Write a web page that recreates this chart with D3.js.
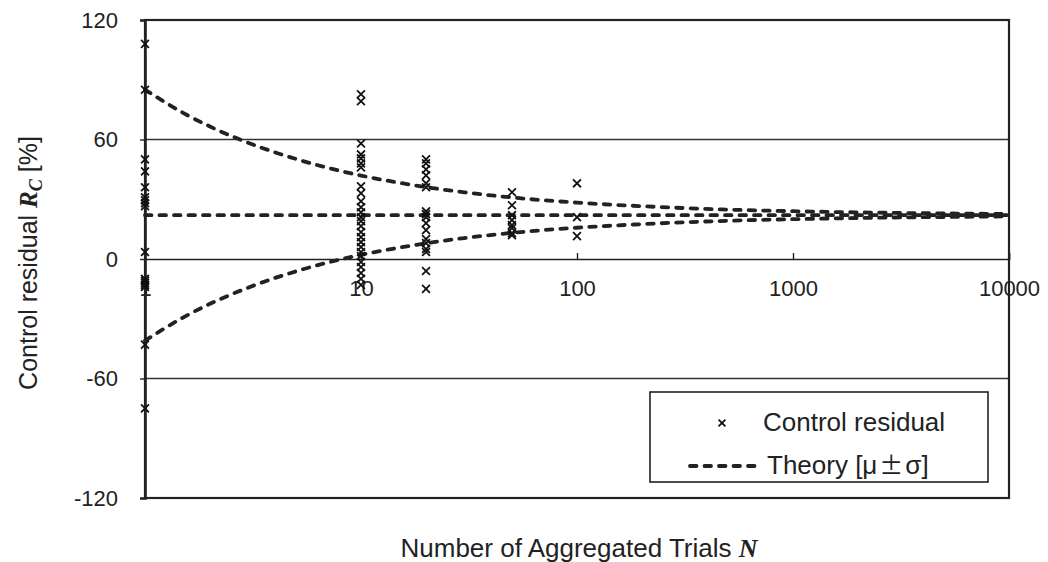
<!DOCTYPE html>
<html><head><meta charset="utf-8">
<script src="https://cdn.jsdelivr.net/npm/d3@7"></script>
<style>
body{margin:0;background:#fff;}
svg{display:block;font-family:"Liberation Sans",Arial,sans-serif;}
</style></head>
<body>
<svg id="chart" width="1048" height="562"></svg>
<script>
// ---- data ----
const trialCounts = [1, 10, 20, 50, 100];
const residualsN1 = [108, 85, 50, 44, 36, 31, 29.5, 28, 26.5, 3.5, -10, -11, -12, -13, -14, -43, -75];
const residualsN10 = [82.7, 79.2, 58, 52.5, 50.5, 48, 46, 36.5, 33, 29, 26, 23.5, 21, 19, 16.5, 13.5, 11, 8.5, 6, 3.5, 1.5, -1.5, -4, -7, -10, -13];
const residualsN20 = [50, 48, 45, 42, 38, 36, 24, 22.5, 21, 18, 14.5, 10, 8, 5, 3.5, -6, -15];
const residualsN50 = [33.5, 27, 22, 19.5, 17, 15.5, 13, 12];
const residualsN100 = [38, 21, 11.5];
const theoryN =     [1, 1.5, 2, 3, 5, 7, 10, 15, 20, 30, 50, 70, 100, 200, 500, 1000, 2000, 5000, 10000];
const theoryMu =    [22, 22, 22, 22, 22, 22, 22, 22, 22, 22, 22, 22, 22, 22, 22, 22, 22, 22, 22];
const theoryUpper = [85, 73.4, 66.5, 58.4, 50.2, 45.8, 41.9, 38.3, 36.1, 33.5, 30.9, 29.5, 28.3, 26.5, 24.8, 24.0, 23.4, 22.9, 22.6];
const theoryLower = [-41, -29.4, -22.5, -14.4, -6.2, -1.8, 2.1, 5.7, 7.9, 10.5, 13.1, 14.5, 15.7, 17.5, 19.2, 20.0, 20.6, 21.1, 21.4];
const xTicks = [1, 10, 100, 1000, 10000];
const yTicks = [-120, -60, 0, 60, 120];
const legendLabels = ["Control residual", "Theory [μ", "±", "σ]"];

// ---- chart ----
const svg = d3.select("#chart");
const x = d3.scaleLog().domain([1, 10000]).range([145, 1009]);
const y = d3.scaleLinear().domain([-120, 120]).range([498, 20]);
const fmt = d => String(d);

// gridlines
svg.append("g").selectAll("line").data([-60, 60]).join("line")
  .attr("x1", x(1)).attr("x2", x(10000))
  .attr("y1", d => y(d)).attr("y2", d => y(d))
  .attr("stroke", "#333").attr("stroke-width", 1.4);

// frame
svg.append("rect").attr("x", x(1)).attr("y", y(120))
  .attr("width", x(10000) - x(1)).attr("height", y(-120) - y(120))
  .attr("fill", "none").attr("stroke", "#222").attr("stroke-width", 2.2);

// y axis
const yAxis = svg.append("g").attr("transform", `translate(${x(1)},0)`)
  .call(d3.axisLeft(y).tickValues(yTicks).tickSize(5).tickPadding(22).tickFormat(fmt));
yAxis.select(".domain").attr("stroke", "#222").attr("stroke-width", 2.6);
yAxis.selectAll(".tick line").attr("stroke", "#222").attr("stroke-width", 1.4);
yAxis.selectAll("text").attr("font-size", 22).attr("fill", "#222")
  .attr("font-family", "'Liberation Sans',Arial,sans-serif");

// x axis at y=0
const xAxis = svg.append("g").attr("transform", `translate(0,${y(0)})`)
  .call(d3.axisBottom(x).tickValues(xTicks).tickSize(-6).tickPadding(21).tickFormat(fmt));
xAxis.select(".domain").attr("stroke", "#222").attr("stroke-width", 1.6);
xAxis.selectAll(".tick line").attr("stroke", "#222").attr("stroke-width", 1.4);
xAxis.selectAll("text").attr("font-size", 22).attr("fill", "#222")
  .attr("font-family", "'Liberation Sans',Arial,sans-serif");

// theory curves
const dashStyle = g => g.attr("fill", "none").attr("stroke", "#222").attr("stroke-width", 3.8)
  .attr("stroke-dasharray", "6.5,8").attr("stroke-linecap", "round");
const lineGen = vals => d3.line().x((d, i) => x(theoryN[i])).y(d => y(d)).curve(d3.curveMonotoneX)(vals);
[theoryUpper, theoryMu, theoryLower].forEach(vals => {
  svg.append("path").attr("d", lineGen(vals)).call(dashStyle);
});

// points
const allSeries = [residualsN1, residualsN10, residualsN20, residualsN50, residualsN100];
const points = [];
allSeries.forEach((arr, i) => arr.forEach(v => points.push({n: trialCounts[i], v})));
const cross = d3.symbol().type(d3.symbolX).size(42);
svg.append("g").selectAll("path").data(points).join("path")
  .attr("transform", d => `translate(${x(d.n)},${y(d.v)})`)
  .attr("d", cross)
  .attr("fill", "none").attr("stroke", "#111").attr("stroke-width", 1.8);

// axis titles
const serif = "'Liberation Serif','Times New Roman',serif";
const yt = svg.append("text").attr("transform", `translate(37,263) rotate(-90)`)
  .attr("text-anchor", "middle").attr("font-size", 25).attr("fill", "#222");
yt.append("tspan").text("Control residual ");
yt.append("tspan").text("R").attr("font-family", serif)
  .attr("font-weight", "bold").attr("font-style", "italic");
yt.append("tspan").text("C").attr("font-family", serif)
  .attr("font-weight", "bold").attr("font-style", "italic").attr("font-size", 18).attr("dy", 5);
yt.append("tspan").text(" [%]").attr("dy", -5);

const xt = svg.append("text").attr("x", 579).attr("y", 557)
  .attr("text-anchor", "middle").attr("font-size", 26).attr("fill", "#222");
xt.append("tspan").text("Number of Aggregated Trials ");
xt.append("tspan").text("N").attr("font-family", serif)
  .attr("font-weight", "bold").attr("font-style", "italic");

// legend
const lg = svg.append("g");
lg.append("rect").attr("x", 650).attr("y", 392).attr("width", 338).attr("height", 90)
  .attr("fill", "#fff").attr("stroke", "#222").attr("stroke-width", 1.6);
lg.append("path").attr("transform", "translate(722,423)").attr("d", d3.symbol().type(d3.symbolX).size(32))
  .attr("fill", "none").attr("stroke", "#111").attr("stroke-width", 1.8);
lg.append("text").attr("x", 763).attr("y", 431).attr("font-size", 26).attr("fill", "#222").text(legendLabels[0]);
lg.append("line").attr("x1", 690).attr("x2", 756).attr("y1", 466).attr("y2", 466).call(dashStyle);
const t2 = lg.append("text").attr("x", 767).attr("y", 474).attr("font-size", 26).attr("fill", "#222");
t2.append("tspan").text(legendLabels[1]);
t2.append("tspan").text(legendLabels[2]).attr("font-family", "'Noto Sans CJK JP',sans-serif").attr("font-size", 24).attr("dx", 2);
t2.append("tspan").text(legendLabels[3]).attr("dx", 2);
</script>
</body></html>
